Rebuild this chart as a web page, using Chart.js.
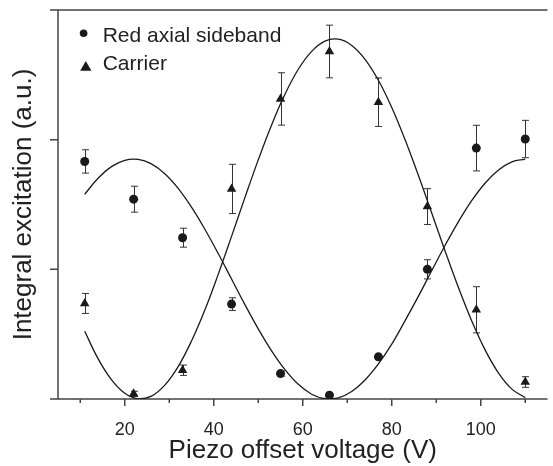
<!DOCTYPE html>
<html>
<head>
<meta charset="utf-8">
<script src="https://cdn.jsdelivr.net/npm/chart.js@4.4.0/dist/chart.umd.min.js"></script>
<style>
  body { margin: 0; background: #fff; }
  #wrap { width: 553px; height: 466px; }
</style>
</head>
<body>
<div id="wrap"><canvas id="myChart"></canvas></div>
<script>
// measured points
const voltages = [11, 22, 33, 44, 55, 66, 77, 88, 99, 110];
const sideband = [1.832, 1.541, 1.244, 0.732, 0.196, 0.029, 0.325, 1.0, 1.935, 2.005];
const sidebandErr = [0.09, 0.10, 0.073, 0.049, 0.02, 0.02, 0.02, 0.074, 0.176, 0.144];
const carrier = [0.737, 0.04, 0.222, 1.62, 2.314, 2.68, 2.289, 1.484, 0.688, 0.131];
const carrierErr = [0.077, 0.02, 0.04, 0.19, 0.202, 0.203, 0.187, 0.138, 0.178, 0.041];

// fit curves
const fitVoltages = [11, 14, 17, 20, 23, 26, 29, 32, 35, 38, 41, 44, 47, 50, 53, 56, 59,
    62, 65, 68, 71, 74, 77, 80, 83, 86, 89, 92, 95, 98, 101, 104, 107, 110];
const sidebandFit = [1.579, 1.703, 1.792, 1.841, 1.848, 1.813, 1.737, 1.624, 1.479, 1.309,
    1.122, 0.925, 0.728, 0.541, 0.371, 0.226, 0.113, 0.037, 0.002, 0.009, 0.058, 0.147,
    0.271, 0.423, 0.604, 0.793, 0.991, 1.186, 1.368, 1.531, 1.666, 1.766, 1.829, 1.850];
const carrierFit = [0.523, 0.311, 0.149, 0.044, 0.001, 0.022, 0.107, 0.250, 0.447, 0.686,
    0.961, 1.254, 1.553, 1.844, 2.114, 2.350, 2.543, 2.681, 2.760, 2.775, 2.727, 2.620,
    2.458, 2.248, 1.999, 1.723, 1.432, 1.140, 0.858, 0.600, 0.377, 0.200, 0.076, 0.010];

const xTicks = [20, 40, 60, 80, 100];
const xMinorTicks = [10, 30, 50, 70, 90, 110];
const yTicks = [0, 1, 2, 3];

const ink = '#1a1a1a';
Chart.defaults.font.family = '"Liberation Sans", Arial, sans-serif';
Chart.defaults.color = '#222';

const pts = (xs, ys) => xs.map((v, i) => ({ x: v, y: ys[i] }));

function marker(ctx, style, x, y, r) {
    ctx.beginPath();
    if (style === 'triangle') {
        ctx.moveTo(x, y - r);
        ctx.lineTo(x + r * Math.sqrt(3) / 2, y + r / 2);
        ctx.lineTo(x - r * Math.sqrt(3) / 2, y + r / 2);
        ctx.closePath();
    } else {
        ctx.arc(x, y, r, 0, Math.PI * 2);
    }
    ctx.fill();
}

const frame = {
    id: 'frame',
    beforeDatasetsDraw(chart) {
        const { ctx, chartArea: a, scales: { x, y } } = chart;
        ctx.save();
        ctx.strokeStyle = '#444';
        ctx.lineWidth = 1.5;
        ctx.beginPath();
        ctx.moveTo(a.left, a.top);
        ctx.lineTo(a.left, a.bottom);
        ctx.moveTo(a.left - 8, a.top);
        ctx.lineTo(a.right, a.top);
        yTicks.forEach(v => {
            const py = y.getPixelForValue(v);
            ctx.moveTo(a.left - 8, py);
            ctx.lineTo(v === 0 ? a.right : a.left, py);
        });
        xTicks.forEach(v => {
            const px = x.getPixelForValue(v);
            ctx.moveTo(px, a.bottom);
            ctx.lineTo(px, a.bottom + 7);
        });
        xMinorTicks.forEach(v => {
            const px = x.getPixelForValue(v);
            ctx.moveTo(px, a.bottom);
            ctx.lineTo(px, a.bottom + 4);
        });
        ctx.stroke();

        // error bars under the markers
        ctx.strokeStyle = '#333';
        ctx.lineWidth = 1;
        [[sideband, sidebandErr], [carrier, carrierErr]].forEach(([vals, errs]) => {
            ctx.beginPath();
            voltages.forEach((v, i) => {
                const px = Math.round(x.getPixelForValue(v)) + 0.5;
                const top = y.getPixelForValue(vals[i] + errs[i]);
                const bot = y.getPixelForValue(vals[i] - errs[i]);
                ctx.moveTo(px, top); ctx.lineTo(px, bot);
                ctx.moveTo(px - 3.5, top); ctx.lineTo(px + 3.5, top);
                ctx.moveTo(px - 3.5, bot); ctx.lineTo(px + 3.5, bot);
            });
            ctx.stroke();
        });
        ctx.restore();
    },
    afterDraw(chart) {
        const { ctx, chartArea: a } = chart;
        ctx.save();
        ctx.fillStyle = ink;
        marker(ctx, 'circle', a.left + 25.6, a.top + 23.3, 3.8);
        marker(ctx, 'triangle', a.left + 27.8, a.top + 57.5, 6.5);
        ctx.fillStyle = '#222';
        ctx.font = '21px "Liberation Sans", Arial, sans-serif';
        ctx.textBaseline = 'alphabetic';
        ctx.fillText('Red axial sideband', a.left + 44.7, a.top + 31.7);
        ctx.fillText('Carrier', a.left + 44.7, a.top + 60);
        ctx.restore();
    }
};

const config = {
    type: 'scatter',
    data: {
        datasets: [{
            label: 'Red axial sideband',
            data: pts(voltages, sideband),
            pointStyle: 'circle',
            pointRadius: 4.5,
            backgroundColor: ink,
            borderWidth: 0,
        }, {
            label: 'Carrier',
            data: pts(voltages, carrier),
            pointStyle: 'triangle',
            pointRadius: 5.5,
            backgroundColor: ink,
            borderWidth: 0,
        }, {
            type: 'line',
            label: 'Sideband fit',
            data: pts(fitVoltages, sidebandFit),
            borderColor: ink,
            borderWidth: 1.3,
            pointRadius: 0,
            tension: 0.4,
            fill: false,
        }, {
            type: 'line',
            label: 'Carrier fit',
            data: pts(fitVoltages, carrierFit),
            borderColor: ink,
            borderWidth: 1.3,
            pointRadius: 0,
            tension: 0.4,
            fill: false,
        }]
    },
    options: {
        responsive: true,
        maintainAspectRatio: false,
        animation: false,
        layout: { padding: { top: 10, right: 0, left: 0, bottom: 0 } },
        plugins: {
            legend: { display: false },
            tooltip: { enabled: false },
        },
        scales: {
            x: {
                type: 'linear',
                min: 5,
                max: 115,
                grid: { display: false },
                border: { display: false },
                afterBuildTicks: (s) => { s.ticks = xTicks.map(v => ({ value: v })); },
                ticks: { font: { size: 18 }, padding: 12, maxRotation: 0, autoSkip: false },
                title: {
                    display: true,
                    text: 'Piezo offset voltage (V)',
                    font: { size: 26 },
                    padding: { top: 0, bottom: 0 },
                },
                afterFit: (s) => { s.height = 67; },
            },
            y: {
                min: 0,
                max: 3,
                grid: { display: false },
                border: { display: false },
                ticks: { display: false },
                title: {
                    display: true,
                    text: 'Integral excitation (a.u.)',
                    font: { size: 26 },
                    padding: { top: 8, bottom: 0 },
                },
                afterFit: (s) => { s.width = 58; },
            }
        }
    },
    plugins: [frame]
};

const myChart = new Chart(document.getElementById('myChart'), config);
</script>
</body>
</html>
